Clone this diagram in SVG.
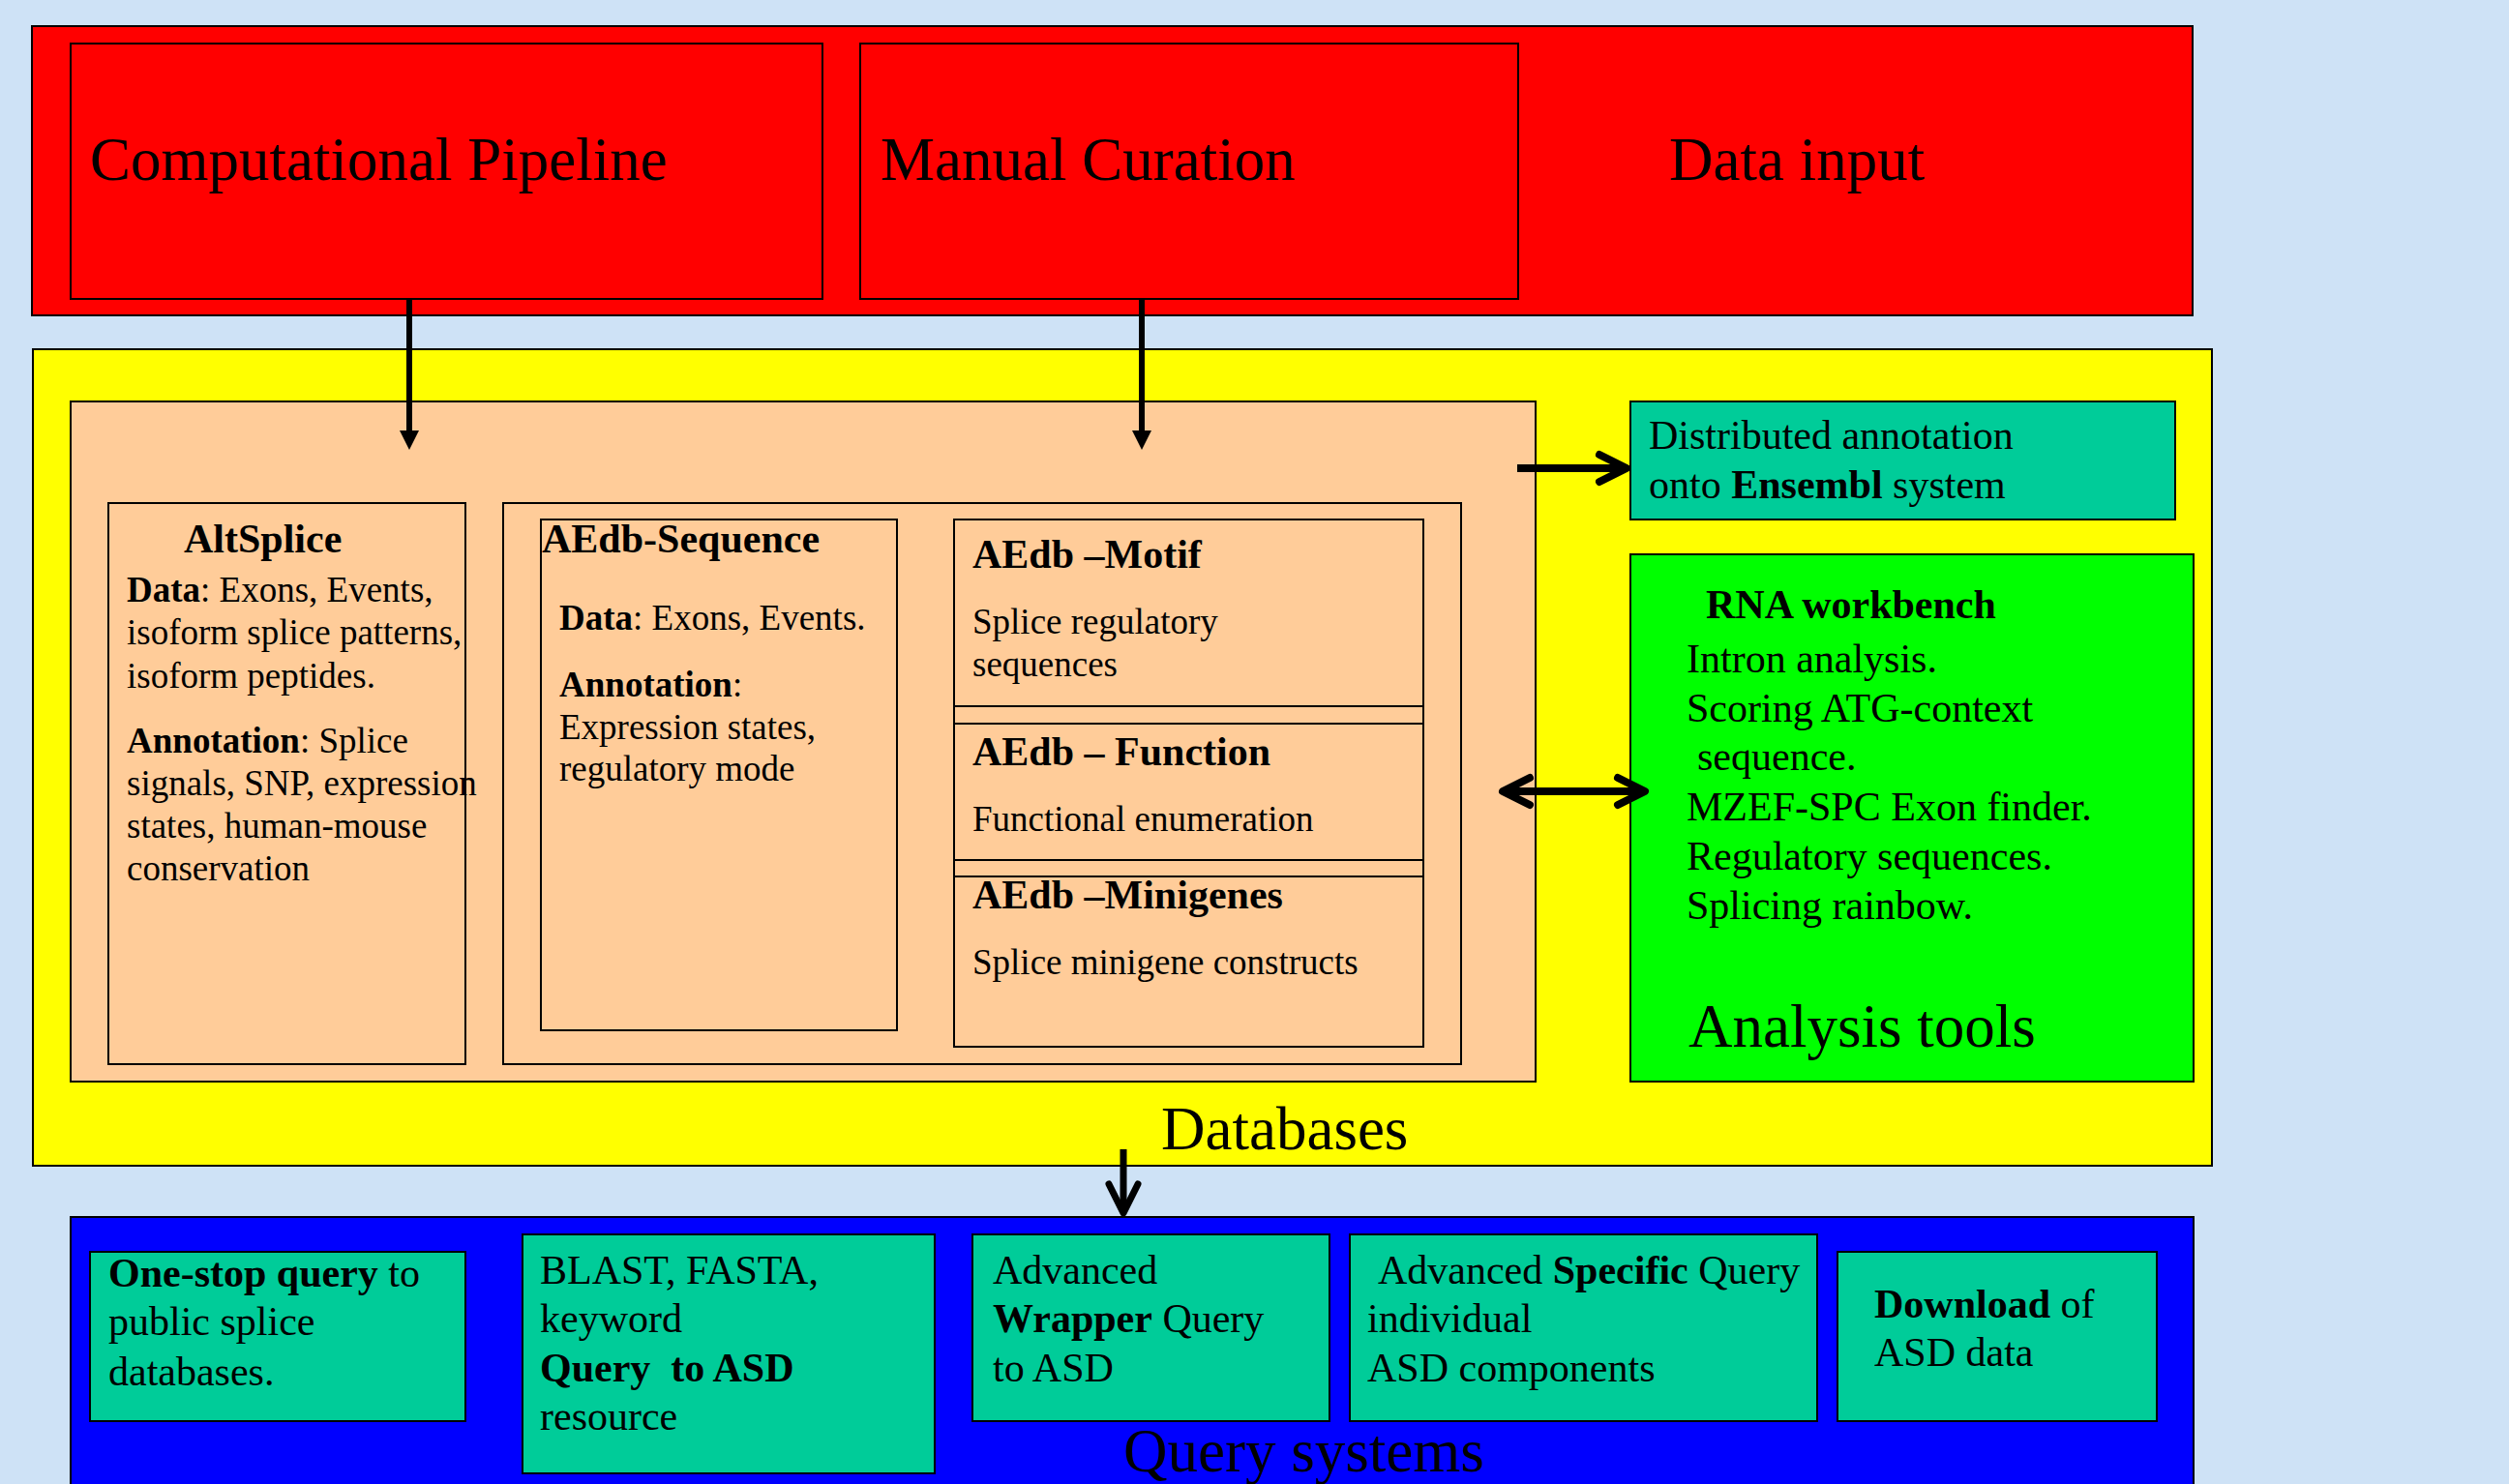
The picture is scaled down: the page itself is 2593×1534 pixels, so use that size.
<svg xmlns="http://www.w3.org/2000/svg" width="2593" height="1534" viewBox="0 0 2593 1534">
<style>
text{font-family:"Liberation Serif","Times New Roman",serif;fill:#000}
.big{font-size:63px}
.h{font-size:42px;font-weight:bold}
.s{font-size:37px}
.m{font-size:42px}
.b{font-weight:bold}
.box{stroke:#000;stroke-width:2}
.red{fill:#FF0000}
.yel{fill:#FFFF00}
.pch{fill:#FFCC99}
.teal{fill:#00CC99}
.grn{fill:#00FF00}
.blu{fill:#0000FF}
.ln{fill:none;stroke:#000;stroke-width:6}
.lnd{fill:none;stroke:#000;stroke-width:7}
.lnw{fill:none;stroke:#000;stroke-width:8}
</style>
<defs>
<marker id="tri" markerUnits="userSpaceOnUse" markerWidth="30" markerHeight="30" viewBox="-25 -15 30 30" refX="-18" refY="0" orient="auto" overflow="visible">
<path d="M0,0 L-20,-10 L-20,10 Z" fill="#000"/>
</marker>
<marker id="chev" markerUnits="userSpaceOnUse" markerWidth="50" markerHeight="50" viewBox="-40 -25 50 50" refX="0" refY="0" orient="auto-start-reverse" overflow="visible">
<path d="M-28,-14 L0,0 L-28,14" fill="none" stroke="#000" stroke-width="8" stroke-linecap="round" stroke-linejoin="round"/>
</marker>
<marker id="chev2" markerUnits="userSpaceOnUse" markerWidth="50" markerHeight="50" viewBox="-40 -25 50 50" refX="0" refY="0" orient="auto" overflow="visible">
<path d="M-30,-15 L0,0 L-30,15" fill="none" stroke="#000" stroke-width="7" stroke-linecap="round" stroke-linejoin="round"/>
</marker>
</defs>
<rect x="0" y="0" width="2593" height="1534" fill="#CEE2F6"/>

<g id="node-data-input">
<rect class="box red" x="33" y="27" width="2233" height="299"/>
<text class="big" x="1725" y="186">Data input</text>
</g>
<g id="node-computational-pipeline">
<rect class="box red" x="73" y="45" width="777" height="264"/>
<text class="big" x="93" y="186">Computational Pipeline</text>
</g>
<g id="node-manual-curation">
<rect class="box red" x="889" y="45" width="680" height="264"/>
<text class="big" x="910" y="186">Manual Curation</text>
</g>

<g id="node-databases">
<rect class="box yel" x="34" y="361" width="2252" height="844"/>
<text class="big" x="1200" y="1188">Databases</text>
</g>
<g id="node-db-core">
<rect class="box pch" x="73" y="415" width="1514" height="703"/>
</g>
<g id="node-altsplice">
<rect class="box pch" x="112" y="520" width="369" height="580"/>
<text class="h" x="190" y="571">AltSplice</text>
<text class="s" x="131" y="622"><tspan class="b">Data</tspan>: Exons, Events,</text>
<text class="s" x="131" y="666">isoform splice patterns,</text>
<text class="s" x="131" y="711">isoform peptides.</text>
<text class="s" x="131" y="778"><tspan class="b">Annotation</tspan>: Splice</text>
<text class="s" x="131" y="822">signals, SNP, expression</text>
<text class="s" x="131" y="866">states, human-mouse</text>
<text class="s" x="131" y="910">conservation</text>
</g>
<g id="node-aedb">
<rect class="box pch" x="520" y="520" width="990" height="580"/>
</g>
<g id="node-aedb-sequence">
<rect class="box pch" x="559" y="537" width="368" height="528"/>
<text class="h" x="560" y="571">AEdb-Sequence</text>
<text class="s" x="578" y="651"><tspan class="b">Data</tspan>: Exons, Events.</text>
<text class="s" x="578" y="720"><tspan class="b">Annotation</tspan>:</text>
<text class="s" x="578" y="764">Expression states,</text>
<text class="s" x="578" y="807">regulatory mode</text>
</g>
<g id="node-aedb-stack">
<rect class="box pch" x="986" y="537" width="485" height="545"/>
</g>
<g id="node-aedb-motif">
<rect class="box pch" x="986" y="537" width="485" height="193"/>
<text class="h" x="1005" y="587">AEdb –Motif</text>
<text class="s" x="1005" y="655">Splice regulatory</text>
<text class="s" x="1005" y="699">sequences</text>
</g>
<g id="node-aedb-function">
<rect class="box pch" x="986" y="748" width="485" height="141"/>
<text class="h" x="1005" y="791">AEdb – Function</text>
<text class="s" x="1005" y="859">Functional enumeration</text>
</g>
<g id="node-aedb-minigenes">
<rect class="box pch" x="986" y="906" width="485" height="176"/>
<text class="h" x="1005" y="939">AEdb –Minigenes</text>
<text class="s" x="1005" y="1007">Splice minigene constructs</text>
</g>

<g id="node-ensembl">
<rect class="box teal" x="1685" y="415" width="563" height="122"/>
<text class="m" x="1704" y="464">Distributed annotation</text>
<text class="m" x="1704" y="515">onto <tspan class="b">Ensembl</tspan> system</text>
</g>
<g id="node-analysis-tools">
<rect class="box grn" x="1685" y="573" width="582" height="545"/>
<text class="h" x="1763" y="639">RNA workbench</text>
<text class="m" x="1743" y="695">Intron analysis.</text>
<text class="m" x="1743" y="746">Scoring ATG-context</text>
<text class="m" x="1754" y="796">sequence.</text>
<text class="m" x="1743" y="848">MZEF-SPC Exon finder.</text>
<text class="m" x="1743" y="899">Regulatory sequences.</text>
<text class="m" x="1743" y="950">Splicing rainbow.</text>
<text class="big" x="1745" y="1082">Analysis tools</text>
</g>

<g id="node-query-systems">
<rect class="box blu" x="73" y="1258" width="2194" height="290"/>
<text class="big" x="1161" y="1521">Query systems</text>
</g>
<g id="node-one-stop">
<rect class="box teal" x="93" y="1294" width="388" height="175"/>
<text class="m" x="112" y="1330"><tspan class="b">One-stop query</tspan> to</text>
<text class="m" x="112" y="1380">public splice</text>
<text class="m" x="112" y="1432">databases.</text>
</g>
<g id="node-blast">
<rect class="box teal" x="540" y="1276" width="426" height="247"/>
<text class="m" x="558" y="1327">BLAST, FASTA,</text>
<text class="m" x="558" y="1377">keyword</text>
<text class="m b" x="558" y="1428" xml:space="preserve" style="white-space:pre">Query  to ASD</text>
<text class="m" x="558" y="1478">resource</text>
</g>
<g id="node-wrapper">
<rect class="box teal" x="1005" y="1276" width="369" height="193"/>
<text class="m" x="1026" y="1327">Advanced</text>
<text class="m" x="1026" y="1377"><tspan class="b">Wrapper</tspan> Query</text>
<text class="m" x="1026" y="1428">to ASD</text>
</g>
<g id="node-specific">
<rect class="box teal" x="1395" y="1276" width="483" height="193"/>
<text class="m" x="1424" y="1327">Advanced <tspan class="b">Specific</tspan> Query</text>
<text class="m" x="1413" y="1377">individual</text>
<text class="m" x="1413" y="1428">ASD components</text>
</g>
<g id="node-download">
<rect class="box teal" x="1899" y="1294" width="330" height="175"/>
<text class="m" x="1937" y="1362"><tspan class="b">Download</tspan> of</text>
<text class="m" x="1937" y="1412">ASD data</text>
</g>

<g id="connectors">
<line class="ln" x1="423" y1="309" x2="423" y2="447" marker-end="url(#tri)"/>
<line class="ln" x1="1180" y1="309" x2="1180" y2="447" marker-end="url(#tri)"/>
<line class="lnw" x1="1568" y1="484" x2="1681" y2="484" marker-end="url(#chev)"/>
<line class="lnw" x1="1553" y1="818" x2="1700" y2="818" marker-start="url(#chev)" marker-end="url(#chev)"/>
<line class="lnd" x1="1161" y1="1188" x2="1161" y2="1254" marker-end="url(#chev2)"/>
</g>
</svg>
